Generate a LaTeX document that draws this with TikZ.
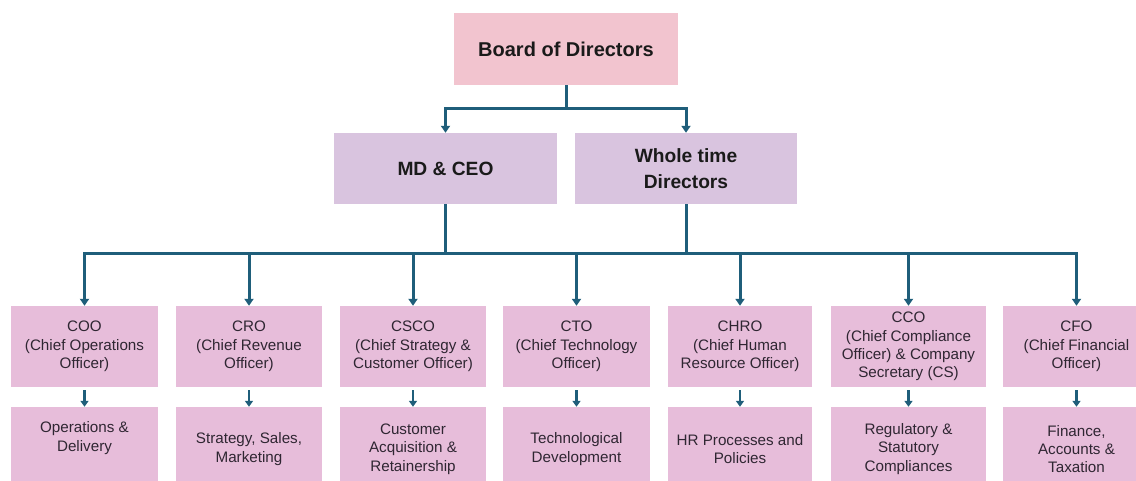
\documentclass[tikz,border=0pt]{standalone}
\usepackage{fontspec}
\setmainfont{Liberation Sans}
\usetikzlibrary{arrows.meta}
\definecolor{boardpink}{HTML}{F2C4CF}
\definecolor{dirpurple}{HTML}{D9C4DF}
\definecolor{unitpink}{HTML}{E7BDDA}
\definecolor{linecol}{HTML}{1F5E7A}
\definecolor{toptext}{HTML}{1A1A1A}
\definecolor{lowtext}{HTML}{2F2632}
\tikzset{
  topbox/.style={fill=boardpink, draw=none, minimum width=224pt, minimum height=72pt, align=center, font=\fontsize{20}{23}\selectfont\bfseries, text=toptext},
  dirbox/.style={fill=dirpurple, draw=none, minimum width=223pt, minimum height=71pt, align=center, font=\fontsize{19.2}{26}\selectfont\bfseries, text=toptext},
  rolebox/.style={fill=unitpink, draw=none, minimum width=147pt, minimum height=81pt, align=center, font=\fontsize{15.2}{18.4}\selectfont, text=lowtext, inner sep=0pt},
  unitbox/.style={fill=unitpink, draw=none, minimum width=147pt, minimum height=84pt, align=center, font=\fontsize{15.2}{18.4}\selectfont, text=lowtext, inner sep=0pt},
  plainline/.style={draw=linecol, line width=3pt},
  arr/.style={draw=linecol, line width=3pt, -{Triangle[width=9pt,length=7pt]}},
  smallarr/.style={draw=linecol, line width=2.6pt, -{Triangle[width=8pt,length=6pt]}},
  lbl/.style={align=center, font=\fontsize{15.2}{18.4}\selectfont, text=lowtext, inner sep=0pt}
}
\begin{document}
\begin{tikzpicture}[x=1pt,y=-1pt]
\useasboundingbox (0,0) rectangle (1136,481);
\clip (0,0) rectangle (1136,481);
\fill[white] (0,0) rectangle (1136,481);

\node[topbox] (board) at (566,49) {Board of Directors};
\node[dirbox] (md) at (445.5,168.5) {MD \& CEO};
\node[dirbox, minimum width=222pt] (wtd) at (686,168.5) {Whole time\\Directors};

% level 3
\node[rolebox] (coo) at (84.5,346.5) {COO\\(Chief Operations\\Officer)};
\node[rolebox, minimum width=146pt] (cro) at (249,346.5) {CRO\\(Chief Revenue\\Officer)};
\node[rolebox, minimum width=146pt] (csco) at (413,346.5) {CSCO\\(Chief Strategy \&\\Customer Officer)};
\node[rolebox] (cto) at (576.5,346.5) {CTO\\(Chief Technology\\Officer)};
\node[rolebox, minimum width=144pt] (chro) at (740,346.5) {CHRO\\(Chief Human\\Resource Officer)};
\node[rolebox, minimum width=155pt] (cco) at (908.5,346.5) {CCO\\(Chief Compliance\\Officer) \& Company\\Secretary (CS)};
\node[rolebox] (cfo) at (1076.5,346.5) {CFO\\(Chief Financial\\Officer)};

% level 4 boxes
\node[unitbox] (ops) at (84.5,449) {};
\node[lbl] at (84.5,438) {Operations \&\\Delivery};
\node[unitbox, minimum width=146pt] (sales) at (249,449) {Strategy, Sales,\\Marketing};
\node[unitbox, minimum width=146pt] (cust) at (413,449) {Customer\\Acquisition \&\\Retainership};
\node[unitbox] (tech) at (576.5,449) {Technological\\Development};
\node[unitbox, minimum width=144pt] (hr) at (740,449) {HR Processes and\\Policies};
\node[unitbox, minimum width=155pt] (reg) at (908.5,449) {Regulatory \&\\Statutory\\Compliances};
\node[unitbox] (fin) at (1076.5,449) {Finance,\\Accounts \&\\Taxation};

% board to directors
\coordinate (j1) at (566,109);
\draw[plainline] (board.south) -- (j1);
\draw[arr] (j1) -| (md.north);
\draw[arr] (j1) -| (wtd.north);

% directors to bus
\coordinate (bus) at (0,254);
\draw[plainline] (md.south) -- (md.south |- bus);
\draw[plainline] (wtd.south) -- (wtd.south |- bus);
\draw[plainline] (md.south |- bus) -- (wtd.south |- bus);

\draw[arr] (md.south |- bus) -| (coo.north);
\draw[arr] (md.south |- bus) -| (cro.north);
\draw[arr] (md.south |- bus) -| (csco.north);
\draw[arr] (md.south |- bus) -| (cto.north);
\draw[arr] (wtd.south |- bus) -| (chro.north);
\draw[arr] (wtd.south |- bus) -| (cco.north);
\draw[arr] (wtd.south |- bus) -| (cfo.north);

% level 3 to level 4
\draw[smallarr] ([yshift=-3pt]coo.south) -- (ops.north);
\draw[smallarr] ([yshift=-3pt]cro.south) -- (sales.north);
\draw[smallarr] ([yshift=-3pt]csco.south) -- (cust.north);
\draw[smallarr] ([yshift=-3pt]cto.south) -- (tech.north);
\draw[smallarr] ([yshift=-3pt]chro.south) -- (hr.north);
\draw[smallarr] ([yshift=-3pt]cco.south) -- (reg.north);
\draw[smallarr] ([yshift=-3pt]cfo.south) -- (fin.north);
\end{tikzpicture}
\end{document}
